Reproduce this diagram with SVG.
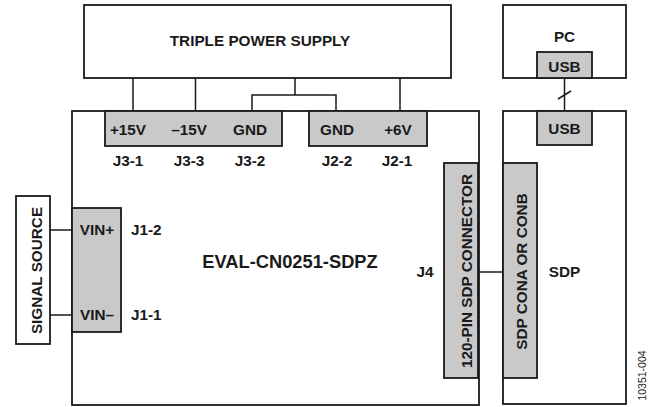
<svg xmlns="http://www.w3.org/2000/svg" width="653" height="407" viewBox="0 0 653 407">
<style>
.box{fill:#fff;stroke:#1a1a1a;stroke-width:1.8}
.con{fill:#c9c9c9;stroke:#1a1a1a;stroke-width:1.8}
.w{fill:none;stroke:#1a1a1a;stroke-width:1.5}
text{font-family:"Liberation Sans",Arial,sans-serif;font-weight:bold;font-size:15.3px;fill:#1a1a1a}
.m{text-anchor:middle}
.big{font-size:18.3px}
.small{font-weight:normal;font-size:10.5px}
</style>
<rect width="653" height="407" fill="#fff"/>
<g id="connectors">
<path class="w" d="M133,78V111M195.5,78V111M295,78V95M252,111V95H336V111M400,78V111"/>
<path class="w" d="M564.5,78V111M558,99L571,91"/>
<path class="w" d="M50,230H72M50,315H72"/>
<path class="w" d="M478,272H503"/>
</g>
<g id="triple-power-supply">
<rect class="box" x="84" y="5" width="367" height="73"/>
<text class="m" x="260" y="46">TRIPLE POWER SUPPLY</text>
</g>
<g id="pc">
<rect class="box" x="503" y="5" width="123" height="73"/>
<text class="m" x="564.5" y="42">PC</text>
</g>
<g id="pc-usb">
<rect class="con" x="537" y="52" width="55" height="26"/>
<text class="m" x="564.5" y="71.5">USB</text>
</g>
<g id="eval-board">
<rect class="box" x="72" y="111" width="407" height="294"/>
<text class="m big" x="290" y="268">EVAL-CN0251-SDPZ</text>
<text class="m" x="425" y="276.5">J4</text>
</g>
<g id="j3">
<rect class="con" x="105" y="111" width="177" height="35"/>
<text class="m" x="128" y="135">+15V</text>
<text class="m" x="189" y="135">–15V</text>
<text class="m" x="250" y="135">GND</text>
<text class="m" x="128" y="166">J3-1</text>
<text class="m" x="189" y="166">J3-3</text>
<text class="m" x="250" y="166">J3-2</text>
</g>
<g id="j2">
<rect class="con" x="309" y="111" width="118" height="35"/>
<text class="m" x="337" y="135">GND</text>
<text class="m" x="398" y="135">+6V</text>
<text class="m" x="337" y="166">J2-2</text>
<text class="m" x="397" y="166">J2-1</text>
</g>
<g id="signal-source">
<rect class="box" x="16" y="196" width="34" height="148"/>
<text class="m" transform="translate(41.5,270.5) rotate(-90)">SIGNAL SOURCE</text>
</g>
<g id="j1">
<rect class="con" x="72" y="208" width="49" height="124"/>
<text class="m" x="97" y="234.5">VIN+</text>
<text class="m" x="97" y="319.5">VIN–</text>
<text x="131" y="234.5">J1-2</text>
<text x="131" y="319.5">J1-1</text>
</g>
<g id="j4-connector">
<rect class="con" x="444" y="163" width="34" height="215"/>
<text class="m" transform="translate(471.5,271) rotate(-90)">120-PIN SDP CONNECTOR</text>
</g>
<g id="sdp">
<rect class="box" x="503" y="111" width="123" height="293"/>
<text class="m" x="564.5" y="277">SDP</text>
</g>
<g id="sdp-usb">
<rect class="con" x="537" y="111" width="55" height="34"/>
<text class="m" x="564.5" y="133.5">USB</text>
</g>
<g id="sdp-con">
<rect class="con" x="503" y="163" width="34" height="215"/>
<text class="m" transform="translate(526.5,271.5) rotate(-90)">SDP CONA OR CONB</text>
</g>
<text class="m small" transform="translate(646,375.5) rotate(-90)">10351-004</text>
</svg>
